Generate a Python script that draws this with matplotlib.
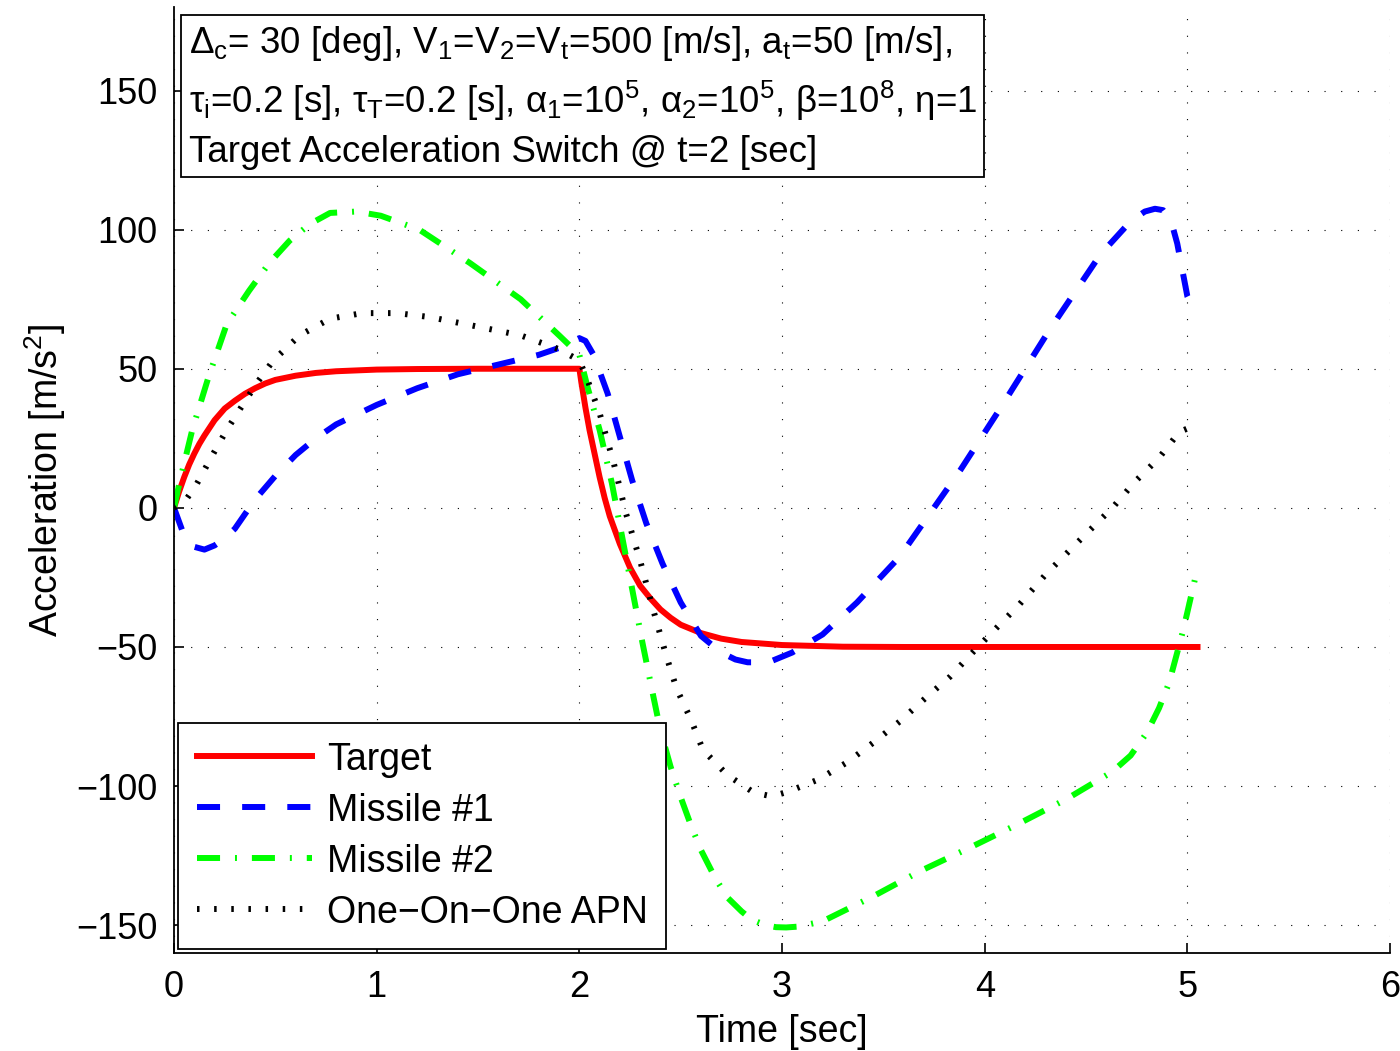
import numpy as np
import matplotlib
matplotlib.use('Agg')
from matplotlib import pyplot as plt

plt.rcParams['font.family'] = ['Liberation Sans', 'DejaVu Sans']
plt.rcParams['mathtext.fontset'] = 'custom'
plt.rcParams['mathtext.rm'] = 'Liberation Sans'
plt.rcParams['mathtext.it'] = 'Liberation Sans'
plt.rcParams['mathtext.bf'] = 'Liberation Sans:bold'

# values
t_target = [0, 0.025, 0.05, 0.075, 0.1, 0.125, 0.15, 0.2, 0.25, 0.3, 0.35, 0.4, 0.45, 0.5,
            0.6, 0.7, 0.8, 1.0, 1.2, 1.5, 2.0, 2.01, 2.03, 2.05, 2.075, 2.1, 2.125, 2.15,
            2.175, 2.2, 2.25, 2.3, 2.35, 2.4, 2.45, 2.5, 2.6, 2.7, 2.8, 3.0, 3.3, 3.6, 4.0,
            4.5, 5.05]
a_target = [0, 5.8, 11, 15.6, 19.5, 23, 26, 31.5, 35.7, 38.5, 41, 43, 44.7, 46,
            47.5, 48.5, 49.1, 49.7, 49.9, 50, 50, 45, 36, 28, 19.5, 11, 3.5, -3,
            -8, -13, -21.5, -28, -32.5, -36.5, -39.5, -42, -45, -47, -48.2, -49.3, -49.9,
            -50, -50, -50, -50]

t_m1 = [0, 0.05, 0.1, 0.15, 0.2, 0.25, 0.3, 0.4, 0.5, 0.6, 0.7, 0.8, 1.0, 1.2, 1.4, 1.6,
        1.8, 1.9, 1.97, 2.0, 2.03, 2.07, 2.14, 2.2, 2.26, 2.33, 2.41, 2.5, 2.6, 2.7, 2.77,
        2.83, 2.9, 2.95, 3.05, 3.2, 3.37, 3.58, 3.88, 4.07, 4.32, 4.57, 4.72, 4.79, 4.84,
        4.88, 4.92, 4.95, 5.0, 5.02]
a_m1 = [0, -10, -14, -15, -13.5, -11, -7.5, 3, 11.5, 19, 25, 30, 37, 43, 48, 51.5,
        55, 57.5, 60, 61, 60, 55, 41, 25.5, 10, -5.5, -20, -34, -46, -52, -54.5,
        -55.5, -55.5, -55, -52, -45.5, -34, -17.6, 13.6, 35, 64, 91, 103, 106.5, 107.5,
        107, 103, 95, 76, 73]

t_m2 = [0, 0.03, 0.09, 0.17, 0.26, 0.37, 0.47, 0.57, 0.67, 0.77, 0.9, 1.02, 1.21, 1.46, 1.71,
        1.9, 2.0, 2.04, 2.1, 2.16, 2.21, 2.26, 2.31, 2.36, 2.4, 2.45, 2.5, 2.55, 2.6, 2.67,
        2.73, 2.8, 2.85, 2.92, 2.97, 3.02, 3.08, 3.2, 3.45, 3.68, 3.93, 4.16, 4.4, 4.63,
        4.72, 4.8, 4.86, 4.91, 4.98, 5.04, 5.06]
a_m2 = [0, 10, 28, 47, 66, 78, 88, 96, 102, 106, 106.5, 105, 100, 88, 75,
        62, 55, 43.5, 28, 9, -10, -29, -48, -66, -80, -93, -104, -114, -123, -133,
        -140, -145, -148, -150, -150.7, -150.8, -150.5, -148.6, -139.6, -130.6, -122,
        -113.8, -104.8, -94.8, -89, -80.8, -72, -62.8, -43.8, -24.8, -21]

t_apn = [0, 0.06, 0.11, 0.19, 0.26, 0.33, 0.41, 0.49, 0.62, 0.77, 0.93, 1.1, 1.26, 1.46, 1.71,
         1.9, 2.0, 2.04, 2.1, 2.17, 2.23, 2.3, 2.36, 2.43, 2.48, 2.55, 2.61, 2.73, 2.86, 2.95,
         3.03, 3.18, 3.32, 3.45, 3.58, 3.71, 3.83, 3.94, 4.06, 4.17, 4.3, 4.45, 4.57, 4.63,
         4.74, 4.8, 4.86, 4.91, 4.96, 5.0]
a_apn = [0, 3, 8.3, 19, 28, 36, 45, 53, 62, 68, 70, 70, 68.6, 65.7, 62,
         57, 53, 46, 34, 16, -2, -19, -35.5, -53.5, -65, -76, -87, -96, -102.3, -103.7,
         -102, -97.6, -91.5, -84.4, -76.8, -68.2, -60.6, -52, -43, -34.8, -24, -13, -4.3, 0,
         9.3, 13.6, 18, 22.6, 27.3, 28.5]

labels = ['Target', 'Missile #1', 'Missile #2', 'One\u2212On\u2212One APN']
info = ('$\\Delta_c$= 30 [deg], V$_1$=V$_2$=V$_t$=500 [m/s], a$_t$=50 [m/s],\n'
        '$\\tau_i$=0.2 [s], $\\tau_T$=0.2 [s], $\\alpha_1$=10$^5$, $\\alpha_2$=10$^5$, '
        '$\\beta$=10$^8$, $\\eta$=1\n'
        'Target Acceleration Switch @ t=2 [sec]')

fig = plt.figure(figsize=(14, 10.51), dpi=100)
ax = fig.add_axes([0.1243, 0.0932, 0.8686, 0.9001])

lw = 4.3
ax.plot(t_target, a_target, color='#ff0000', lw=lw, label=labels[0])
ax.plot(t_m1, a_m1, color='#0000ff', lw=lw, ls=(0, (3.86, 3.7)), label=labels[1])
ax.plot(t_m2, a_m2, color='#00ff00', lw=lw, ls=(0, (3.86, 2.5, 0.33, 2.5)), label=labels[2])
ax.plot(t_apn, a_apn, color='black', lw=lw, ls=(0, (0.42, 2.45)), label=labels[3])

ax.set_xlim(0, 6)
ax.set_ylim(-160, 180)
ax.set_xticks(range(0, 7))
ax.set_yticks([-150, -100, -50, 0, 50, 100, 150])
ax.grid(True, color='black', lw=0.8, ls=(0, (1, 14)))
ax.spines['top'].set_visible(False)
ax.spines['right'].set_visible(False)
for s in ['left', 'bottom']:
    ax.spines[s].set_linewidth(1.3)
ax.tick_params(direction='in', length=7, width=1.2, labelsize=26, pad=12)

ax.set_xlabel('Time [sec]', fontsize=27, labelpad=7)
ax.set_ylabel('Acceleration [m/s$^2$]', fontsize=27, labelpad=6)

ax.text(0.012, 0.982, info, transform=ax.transAxes, fontsize=26.5, va='top', ha='left',
        linespacing=1.45,
        bbox=dict(boxstyle='square,pad=0.2', fc='white', ec='black', lw=1.3))

leg = ax.legend(loc='lower left', fontsize=27, handlelength=3.07, labelspacing=0.4,
                borderaxespad=0.1, fancybox=False, framealpha=1, edgecolor='black',
                borderpad=0.5, handletextpad=0.4)
leg.get_frame().set_linewidth(1.3)

fig.savefig('out.png', dpi=100)
